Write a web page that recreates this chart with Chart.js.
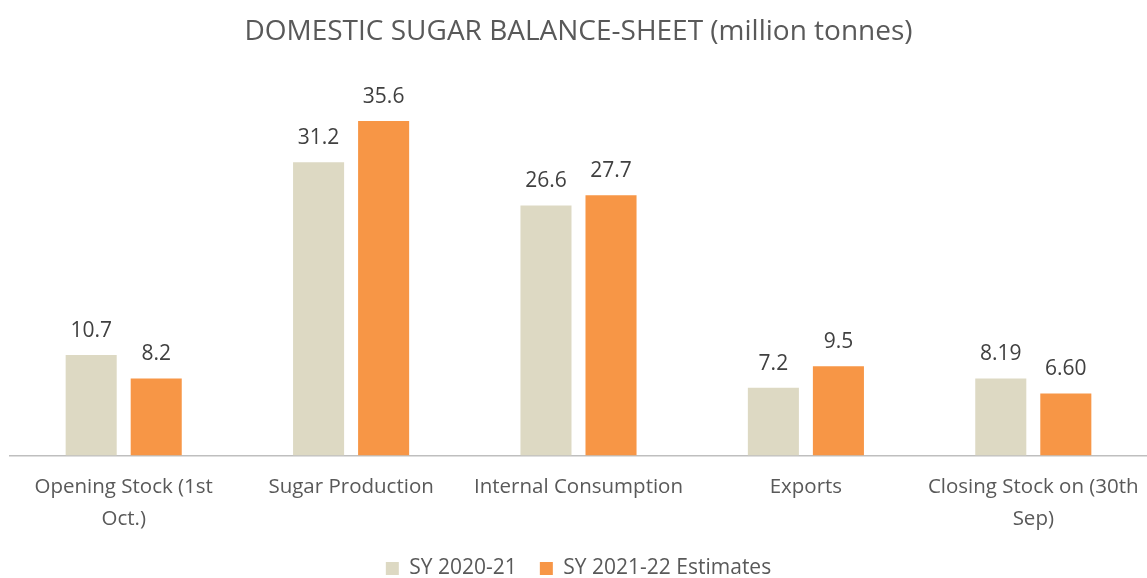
<!DOCTYPE html>
<html>
<head>
<meta charset="utf-8">
<script src="https://cdn.jsdelivr.net/npm/chart.js@4"></script>
<style>
  body { margin: 0; background: #fff; }
  #wrap { width: 1147px; height: 578px; }
</style>
</head>
<body>
<div id="wrap"><canvas id="SugarChart"></canvas></div>
<script>
var categories = [['Opening Stock (1st', 'Oct.)'], 'Sugar Production', 'Internal Consumption', 'Exports', ['Closing Stock on (30th', 'Sep)']];
var series2021 = [10.7, 31.2, 26.6, 7.2, 8.19];
var series2122 = [8.2, 35.6, 27.7, 9.5, 6.60];
var labels2021 = ['10.7', '31.2', '26.6', '7.2', '8.19'];
var labels2122 = ['8.2', '35.6', '27.7', '9.5', '6.60'];
var seriesNames = ['SY 2020-21', 'SY 2021-22 Estimates'];

var FONT = "'Open Sans', 'Liberation Sans', sans-serif";
var TEXT = '#595959';

// value labels above bars
var valueLabels = {
  id: 'valueLabels',
  afterDatasetsDraw: function(chart) {
    var ctx = chart.ctx;
    var texts = [labels2021, labels2122];
    ctx.save();
    ctx.font = '21px ' + FONT;
    ctx.fillStyle = '#404040';
    ctx.textAlign = 'center';
    ctx.textBaseline = 'middle';
    chart.data.datasets.forEach(function(ds, i) {
      chart.getDatasetMeta(i).data.forEach(function(bar, j) {
        ctx.fillText(texts[i][j], bar.x, bar.y - 24);
      });
    });
    ctx.restore();
  }
};

var ctx = document.getElementById('SugarChart');
new Chart(ctx, {
  type: 'bar',
  data: {
    labels: categories,
    datasets: [{
      label: seriesNames[0],
      data: series2021,
      backgroundColor: '#DDD9C3'
    }, {
      label: seriesNames[1],
      data: series2122,
      backgroundColor: '#F79646'
    }]
  },
  options: {
    responsive: true,
    maintainAspectRatio: false,
    animation: false,
    layout: { padding: { left: 10, right: 0, top: 12, bottom: 0 } },
    datasets: {
      bar: { categoryPercentage: 0.572, barPercentage: 0.785 }
    },
    scales: {
      x: {
        grid: { display: false, drawTicks: true, tickLength: 16 },
        border: { color: '#BFBFBF', width: 1.5 },
        ticks: { color: TEXT, font: { family: FONT, size: 20.5, lineHeight: 1.55 }, padding: 0, maxRotation: 0, autoSkip: false }
      },
      y: {
        display: false,
        min: 0,
        max: 40
      }
    },
    plugins: {
      title: {
        display: true,
        text: 'DOMESTIC SUGAR BALANCE-SHEET (million tonnes)',
        color: TEXT,
        font: { family: FONT, size: 28, weight: 'normal' },
        padding: { top: 3, bottom: 31 }
      },
      legend: {
        position: 'bottom',
        maxHeight: 43,
        labels: {
          color: TEXT,
          font: { family: FONT, size: 21 },
          boxWidth: 13,
          boxHeight: 13,
          padding: 23
        }
      },
      tooltip: { enabled: false }
    }
  },
  plugins: [valueLabels]
});
</script>
</body>
</html>
